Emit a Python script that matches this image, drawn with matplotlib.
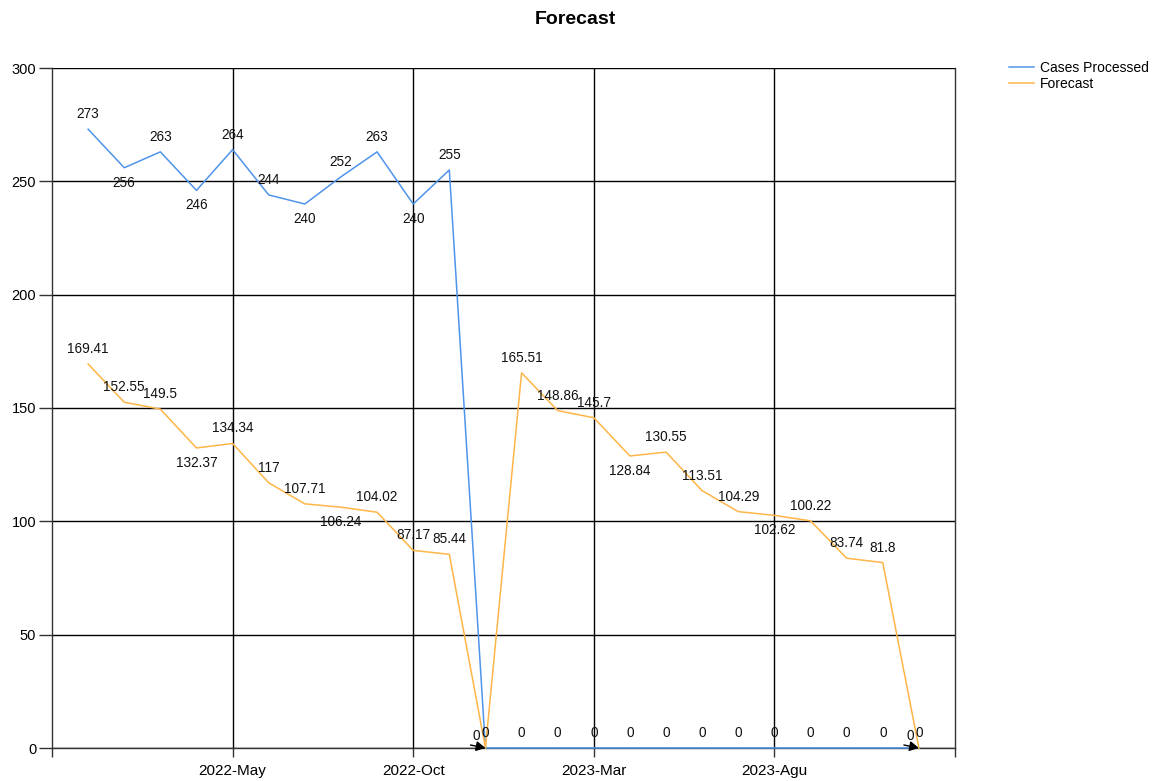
import matplotlib
matplotlib.use("Agg")
import matplotlib.pyplot as plt

plt.rcParams['font.family'] = ['Liberation Sans', 'DejaVu Sans']

# ---- data ----
months = ['2022-Jan', '2022-Feb', '2022-Mar', '2022-Apr', '2022-May', '2022-Jun',
          '2022-Jul', '2022-Aug', '2022-Sep', '2022-Oct', '2022-Nov', '2022-Dec',
          '2023-Jan', '2023-Feb', '2023-Mar', '2023-Apr', '2023-May', '2023-Jun',
          '2023-Jul', '2023-Agu', '2023-Sep', '2023-Oct', '2023-Nov', '2023-Dec']
cases_processed = [273, 256, 263, 246, 264, 244, 240, 252, 263, 240, 255, 0,
                   0, 0, 0, 0, 0, 0, 0, 0, 0, 0, 0, 0]
forecast = [169.41, 152.55, 149.5, 132.37, 134.34, 117, 107.71, 106.24, 104.02, 87.17, 85.44, 0,
            165.51, 148.86, 145.7, 128.84, 130.55, 113.51, 104.29, 102.62, 100.22, 83.74, 81.8, 0]
tick_labels = ['2022-May', '2022-Oct', '2023-Mar', '2023-Agu']
y_ticks = [0, 50, 100, 150, 200, 250, 300]

# label placement (1 = above, -1 = below, 0 = arrow callout)
cases_label_side = [1, -1, 1, -1, 1, 1, -1, 1, 1, -1, 1, 1,
                    1, 1, 1, 1, 1, 1, 1, 1, 1, 1, 1, 1]
forecast_label_side = [1, 1, 1, -1, 1, 1, 1, -1, 1, 1, 1, 0,
                       1, 1, 1, -1, 1, 1, 1, -1, 1, 1, 1, 0]

BLUE = '#4F94EA'
ORANGE = '#FFB547'

fig = plt.figure(figsize=(11.59, 7.81), dpi=100)
ax = fig.add_axes([52/1159, 1-748/781, (955-52)/1159, (748-68)/781])

x = list(range(len(months)))
ax.plot(x, cases_processed, color=BLUE, lw=1.1, label='Cases Processed', clip_on=False, zorder=3)
ax.plot(x, forecast, color=ORANGE, lw=1.1, label='Forecast', clip_on=False, zorder=3)

def fmt(v):
    return ('%g' % v)

LBL = dict(ha='center', va='center', fontsize=9.8, color='#111111', zorder=5,
           annotation_clip=False)

for xi, v, s in zip(x, cases_processed, cases_label_side):
    ax.annotate(fmt(v), (xi, v), xytext=(0, 15 * s), textcoords='offset pixels', **LBL)
for xi, v, s in zip(x, forecast, forecast_label_side):
    if s == 0:
        ax.annotate(fmt(v), (xi, v), xytext=(-9, 12), textcoords='offset pixels', **LBL)
        ax.annotate('', (xi, v), xytext=(-15, 3), textcoords='offset pixels',
                    annotation_clip=False, zorder=4,
                    arrowprops=dict(arrowstyle='-|>,head_length=0.55,head_width=0.3',
                                    color='black', lw=1,
                                    shrinkA=0, shrinkB=0, mutation_scale=10))
    else:
        ax.annotate(fmt(v), (xi, v), xytext=(0, 15 * s), textcoords='offset pixels', **LBL)

ax.set_xlim(-1, len(months))
ax.set_ylim(0, 300)
ax.set_yticks(y_ticks)
ax.set_yticklabels([str(t) for t in y_ticks])
ax.set_xticks(list(range(4, len(months), 5)))
ax.set_xticklabels(tick_labels)
ax.set_xticks([-1, len(months)], minor=True)
ax.tick_params(axis='x', which='minor', length=6.5, width=1, color='#333333')

ax.grid(True, color='black', lw=1)
ax.set_axisbelow(True)
for sp in ['top', 'left', 'right', 'bottom']:
    ax.spines[sp].set_color('#333333')
    ax.spines[sp].set_linewidth(1)
ax.spines['top'].set_visible(False)

ax.tick_params(axis='y', length=9.4, width=1, color='#333333', labelsize=10.5, pad=2)
ax.tick_params(axis='x', which='major', length=6.5, width=1, color='#333333', labelsize=11, pad=5)

fig.text(575/1159, 1 - 19/781, 'Forecast', ha='center', va='center', fontsize=14, fontweight='bold')

fig.legend(loc='upper left', bbox_to_anchor=(1009/1159, 1 - 61/781), frameon=False,
           fontsize=10, handlelength=1.8, handletextpad=0.45, labelspacing=0.15,
           borderaxespad=0, borderpad=0)

fig.savefig('out.png', dpi=100)
